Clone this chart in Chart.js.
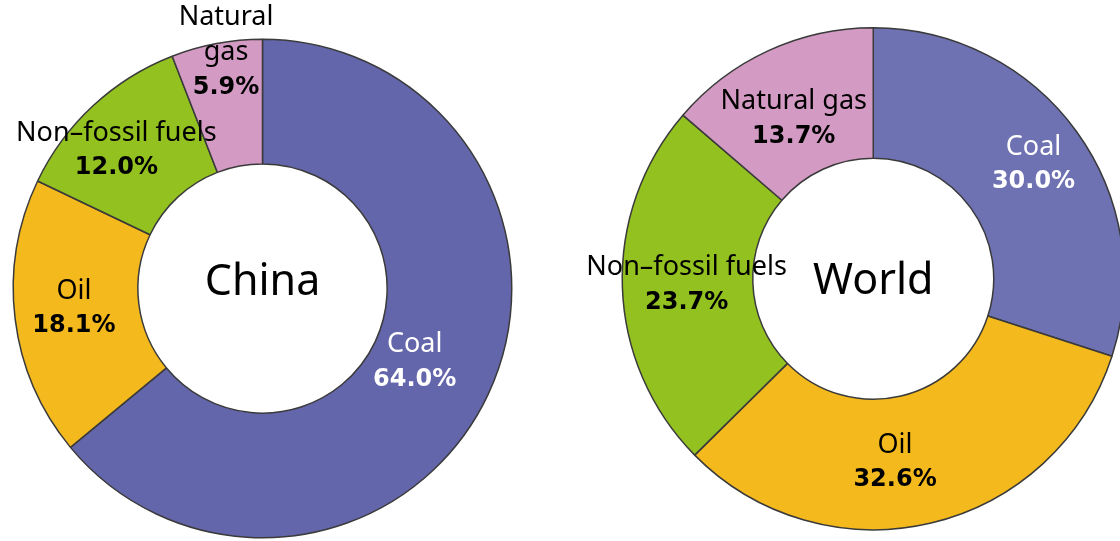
<!DOCTYPE html>
<html>
<head>
<meta charset="utf-8">
<script src="https://cdn.jsdelivr.net/npm/chart.js@4.4.1/dist/chart.umd.min.js"></script>
<style>
    html, body { margin: 0; padding: 0; background: #fff; overflow: hidden; }
    body { width: 1120px; height: 541px; position: relative; }
    .pie { position: absolute; top: 0; width: 560px; height: 541px; }
</style>
</head>
<body>
<div class="pie" style="left:0"><canvas id="chinaChart"></canvas></div>
<div class="pie" style="left:570px"><canvas id="worldChart"></canvas></div>
<script>
// energy mix, share of primary energy consumption (%)
const categories = ['Coal', 'Oil', 'Non–fossil fuels', 'Natural gas'];
const chinaShares = [64.0, 18.1, 12.0, 5.9];
const worldShares = [30.0, 32.6, 23.7, 13.7];

// how each category name is broken into lines on each chart
const chinaNameLines = [['Coal'], ['Oil'], ['Non–fossil fuels'], ['Natural', 'gas']];
const worldNameLines = [['Coal'], ['Oil'], ['Non–fossil fuels'], ['Natural gas']];

const sliceColors = ['#6466ab', '#f4b91d', '#93c11f', '#d39ac3'];
const worldSliceColors = ['#6e71b2', '#f4b91d', '#93c11f', '#d39ac3'];
const labelColors = ['#ffffff', '#000000', '#000000', '#000000'];

// small nudges from the middle of each ring segment
const chinaNudge = [[-17, -6], [-3, -3], [-19, -1], [-2, -52]];
const worldNudge = [[10, -5], [-21, 3], [-1, 0], [-2, 9]];

const sliceLabels = {
    id: 'sliceLabels',
    afterDatasetsDraw(chart, args, opts) {
        const ctx = chart.ctx;
        const meta = chart.getDatasetMeta(0);
        const values = chart.data.datasets[0].data;
        ctx.save();
        ctx.textAlign = 'center';
        ctx.textBaseline = 'middle';
        meta.data.forEach((arc, i) => {
            const pos = arc.tooltipPosition();
            const x = pos.x + opts.nudge[i][0];
            const lines = opts.names[i];
            const lineH = 35;
            const total = lines.length + 1;
            let y = pos.y + opts.nudge[i][1] - (total - 1) * lineH / 2;
            ctx.fillStyle = labelColors[i];
            ctx.font = '27px "Noto Sans"';
            lines.forEach(t => { ctx.fillText(t, x, y); y += lineH; });
            ctx.font = 'bold 24px "DejaVu Sans"';
            ctx.fillText(values[i].toFixed(1) + '%', x, y);
        });
        // name in the hole
        const arc0 = meta.data[0];
        ctx.fillStyle = '#000';
        ctx.font = '43px "Noto Sans"';
        ctx.fillText(opts.title, arc0.x, arc0.y + opts.titleDy);
        ctx.restore();
    }
};

function makeDoughnut(id, shares, colors, cutout, padding, names, nudge, title, titleDy) {
    new Chart(document.getElementById(id).getContext('2d'), {
        type: 'doughnut',
        data: {
            labels: categories,
            datasets: [{
                data: shares,
                backgroundColor: colors,
                borderColor: '#3a3a3a',
                borderWidth: 1.5
            }]
        },
        options: {
            responsive: true,
            maintainAspectRatio: false,
            animation: false,
            cutout: cutout,
            layout: { padding: padding },
            plugins: {
                legend: { display: false },
                tooltip: { enabled: false },
                sliceLabels: { names: names, nudge: nudge, title: title, titleDy: titleDy }
            }
        },
        plugins: [sliceLabels]
    });
}

makeDoughnut('chinaChart', chinaShares, sliceColors, '50%',
    { left: 12.5, right: 47.5, top: 38.5, bottom: 2.5 },
    chinaNameLines, chinaNudge, 'China', -6);
makeDoughnut('worldChart', worldShares, worldSliceColors, '48%',
    { left: 51.5, right: 5, top: 27, bottom: 10.5 },
    worldNameLines, worldNudge, 'World', 3);
</script>
</body>
</html>
